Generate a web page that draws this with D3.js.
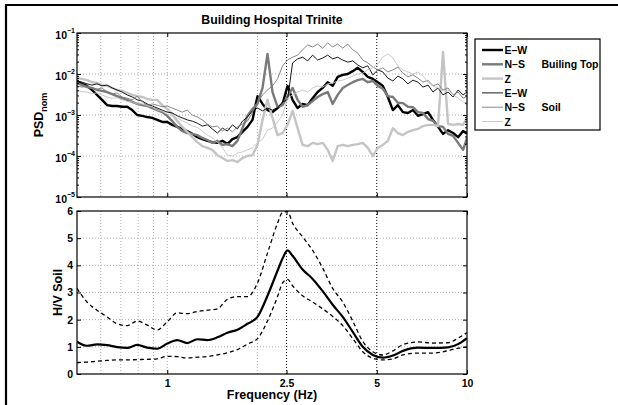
<!DOCTYPE html>
<html>
<head>
<meta charset="utf-8">
<script src="https://cdn.jsdelivr.net/npm/d3@7"></script>
<style>
  body { margin: 0; background: #fff; }
  text { font-family: "Liberation Sans", Arial, Helvetica, sans-serif; font-weight: bold; }
</style>
</head>
<body>
<div id="chart"></div>
<script>

// frequencies (Hz) for the spectra
var freqs = [0.500,0.520,0.540,0.561,0.583,0.606,0.630,0.655,0.680,0.707,
  0.735,0.764,0.794,0.825,0.857,0.891,0.926,0.962,1.000,1.039,
  1.080,1.122,1.166,1.212,1.260,1.309,1.361,1.414,1.470,1.528,
  1.588,1.650,1.715,1.782,1.852,1.925,2.000,2.079,2.160,2.245,
  2.333,2.425,2.520,2.619,2.722,2.829,2.940,3.055,3.175,3.300,
  3.430,3.564,3.704,3.850,4.001,4.158,4.321,4.491,4.667,4.851,
  5.041,5.239,5.445,5.659,5.881,6.112,6.352,6.602,6.861,7.131,
  7.411,7.702,8.004,8.319,8.646,8.985,9.338,9.705,10.0];

// log10 of normalised PSD, building top
var topEW = [-2.17,-2.24,-2.29,-2.39,-2.51,-2.63,-2.76,-2.78,-2.78,-2.80,
  -2.80,-2.88,-3.00,-3.02,-3.05,-3.07,-3.12,-3.17,-3.17,-3.24,
  -3.29,-3.34,-3.39,-3.46,-3.54,-3.59,-3.63,-3.66,-3.68,-3.63,
  -3.71,-3.59,-3.54,-3.41,-3.29,-3.12,-2.54,-2.73,-2.88,-2.93,
  -2.83,-2.73,-2.29,-2.63,-2.83,-2.73,-2.76,-2.59,-2.44,-2.34,
  -2.20,-2.29,-2.07,-2.02,-2.00,-1.93,-1.85,-1.95,-2.07,-2.12,
  -2.20,-2.29,-2.56,-2.88,-2.76,-2.93,-2.95,-2.88,-3.02,-2.98,
  -2.93,-3.12,-3.29,-3.46,-3.37,-3.44,-3.54,-3.39,-3.46];
var topNS = [-2.22,-2.27,-2.32,-2.34,-2.39,-2.41,-2.44,-2.49,-2.54,-2.59,
  -2.63,-2.68,-2.73,-2.76,-2.78,-2.83,-2.88,-2.93,-3.02,-3.15,
  -3.29,-3.39,-3.44,-3.46,-3.49,-3.56,-3.61,-3.68,-3.63,-3.73,
  -3.71,-3.76,-3.63,-3.32,-3.02,-2.85,-2.73,-2.34,-1.51,-2.44,
  -2.80,-2.76,-2.54,-2.34,-2.63,-2.80,-2.76,-2.66,-2.56,-2.49,
  -2.44,-2.73,-2.51,-2.34,-2.27,-2.20,-2.15,-2.12,-2.20,-2.17,
  -2.29,-2.36,-2.54,-2.56,-2.70,-2.71,-2.80,-2.81,-2.93,-2.95,
  -3.10,-3.14,-3.27,-3.29,-3.46,-3.51,-3.68,-3.85,-3.56];
var topZ = [-2.10,-2.12,-2.15,-2.20,-2.22,-2.27,-2.29,-2.34,-2.39,-2.41,
  -2.46,-2.51,-2.54,-2.56,-2.61,-2.63,-2.63,-2.76,-2.85,-2.98,
  -3.15,-3.29,-3.41,-3.54,-3.66,-3.76,-3.80,-3.85,-3.98,-4.05,
  -4.12,-4.10,-4.15,-4.05,-4.00,-3.98,-3.73,-3.12,-2.63,-3.07,
  -3.49,-3.44,-3.24,-2.90,-3.32,-3.73,-3.76,-3.68,-3.71,-3.68,
  -3.85,-4.12,-3.76,-3.73,-3.76,-3.73,-3.71,-3.68,-3.80,-4.00,
  -3.80,-3.73,-3.63,-3.32,-3.44,-3.49,-3.41,-3.37,-3.34,-3.27,
  -3.24,-3.24,-3.27,-1.46,-3.22,-3.24,-3.22,-3.24,-3.07];

// log10 of normalised PSD, soil
var soilEW = [-2.17,-2.20,-2.24,-2.27,-2.24,-2.29,-2.27,-2.34,-2.39,-2.44,
  -2.51,-2.56,-2.63,-2.66,-2.73,-2.78,-2.83,-2.88,-2.93,-2.95,
  -3.02,-3.07,-3.12,-3.15,-3.20,-3.27,-3.24,-3.34,-3.44,-3.32,
  -3.39,-3.24,-3.34,-3.15,-3.05,-2.90,-2.83,-2.90,-2.83,-2.88,
  -2.83,-2.68,-2.63,-1.73,-1.63,-1.59,-1.68,-1.54,-1.66,-1.61,
  -1.54,-1.63,-1.59,-1.66,-1.71,-1.68,-1.78,-1.85,-1.80,-2.02,
  -1.90,-1.95,-2.10,-2.17,-2.05,-2.12,-2.24,-2.15,-2.20,-2.32,
  -2.27,-2.44,-2.34,-2.51,-2.44,-2.56,-2.39,-2.51,-2.44];
var soilNS = [-2.29,-2.32,-2.29,-2.34,-2.37,-2.34,-2.44,-2.49,-2.46,-2.56,
  -2.59,-2.63,-2.54,-2.68,-2.76,-2.73,-2.76,-2.80,-2.78,-2.83,
  -2.88,-2.93,-2.88,-3.00,-3.05,-3.12,-3.22,-3.29,-3.27,-3.39,
  -3.32,-3.41,-3.29,-3.22,-3.15,-2.93,-2.71,-2.51,-2.39,-2.29,
  -2.12,-1.80,-1.66,-1.59,-1.54,-1.41,-1.29,-1.34,-1.27,-1.37,
  -1.24,-1.34,-1.27,-1.37,-1.27,-1.41,-1.49,-1.66,-1.73,-1.83,
  -1.90,-1.85,-1.95,-1.90,-1.83,-1.98,-2.07,-2.02,-2.10,-2.20,
  -2.15,-2.29,-2.24,-2.39,-2.34,-2.51,-2.44,-2.59,-2.54];
var soilZ = [-2.39,-2.43,-2.44,-2.48,-2.46,-2.51,-2.56,-2.59,-2.58,-2.63,
  -2.67,-2.68,-2.73,-2.73,-2.78,-2.80,-2.88,-2.91,-2.98,-3.02,
  -3.07,-3.14,-3.20,-3.27,-3.30,-3.39,-3.49,-3.56,-3.66,-3.80,
  -3.98,-4.00,-3.93,-3.90,-3.85,-3.80,-3.68,-3.59,-3.37,-3.32,
  -3.17,-3.00,-2.59,-2.51,-2.44,-2.39,-2.44,-2.34,-2.29,-2.32,
  -2.24,-2.22,-2.17,-2.15,-2.10,-2.05,-2.00,-1.98,-1.90,-1.85,
  -1.76,-1.59,-1.51,-1.61,-1.80,-1.90,-1.95,-2.00,-1.95,-2.05,
  -2.20,-2.29,-2.34,-2.41,-2.39,-2.51,-2.59,-2.68,-2.76];

// H/V ratio on soil
var hvFreqs = [0.500,0.540,0.583,0.630,0.680,0.735,0.794,0.857,0.926,1.000,
  1.080,1.166,1.260,1.361,1.470,1.588,1.715,1.852,2.000,2.160,
  2.333,2.425,2.520,2.619,2.829,3.055,3.300,3.564,3.850,4.158,
  4.491,4.851,5.239,5.659,6.112,6.861,7.702,8.646,9.338,10.0];
var hvMean = [1.19,1.04,1.09,1.06,0.99,0.96,1.07,0.97,0.93,1.12,
  1.25,1.14,1.28,1.25,1.35,1.52,1.63,1.85,2.10,2.88,
  3.80,4.25,4.55,4.35,3.85,3.50,3.05,2.55,2.10,1.55,
  1.00,0.70,0.60,0.68,0.85,0.97,0.96,0.98,1.10,1.32];
var hvUpper = [3.15,2.65,2.35,2.10,1.85,1.78,1.95,1.80,1.62,1.92,
  2.25,2.22,2.30,2.35,2.40,2.75,2.85,2.85,3.35,4.45,
  5.55,5.95,5.98,5.55,5.05,4.55,3.90,3.15,2.65,1.95,
  1.20,0.82,0.70,0.85,1.08,1.18,1.14,1.15,1.32,1.52];
var hvLower = [0.42,0.44,0.47,0.50,0.52,0.52,0.53,0.54,0.56,0.65,
  0.64,0.59,0.62,0.64,0.70,0.78,0.90,1.10,1.30,1.95,
  2.85,3.35,3.48,3.25,2.88,2.65,2.40,2.12,1.78,1.30,
  0.82,0.58,0.52,0.56,0.70,0.77,0.77,0.86,0.95,1.00];

var componentNames = ["E\u2013W", "N\u2013S", "Z", "E\u2013W", "N\u2013S", "Z"];
var groupNames = ["Builing Top", "Soil"];
var xTickValues = [1, 2.5, 5, 10];
var xGridLight = [0.6, 0.7, 0.8, 0.9, 1, 2];
var xGridDark = [2.5, 5];
var psdTickValues = [1e-5, 1e-4, 1e-3, 1e-2, 1e-1];
var psdExponents = [-5, -4, -3, -2, -1];
var hvTickValues = [0, 1, 2, 3, 4, 5, 6];

var svgWidth = 618;
var svgHeight = 405;

var plotLeft = 77;
var plotWidth = 390;
var topMargin = 33;
var topHeight = 164;
var bottomMargin = 211;
var bottomHeight = 163;

var svg = d3.select("#chart")
  .append("svg")
  .attr("width", svgWidth)
  .attr("height", svgHeight);

svg.append("rect")
  .attr("width", svgWidth)
  .attr("height", svgHeight)
  .attr("fill", "#fff");

// frame lines of the cropped figure
svg.append("line")
  .attr("x1", 5).attr("x2", svgWidth)
  .attr("y1", 5).attr("y2", 5)
  .attr("stroke", "#000").attr("stroke-width", 2.2);
svg.append("line")
  .attr("x1", 6).attr("x2", 6)
  .attr("y1", 4).attr("y2", svgHeight)
  .attr("stroke", "#000").attr("stroke-width", 2.2);

var xScale = d3.scaleLog()
  .domain([0.5, 10])
  .range([0, plotWidth]);

var yPsd = d3.scaleLog()
  .domain([1e-5, 1e-1])
  .range([topHeight, 0]);

var yHv = d3.scaleLinear()
  .domain([0, 6])
  .range([bottomHeight, 0]);

var defs = svg.append("defs");
defs.append("clipPath").attr("id", "clipTop")
  .append("rect").attr("width", plotWidth).attr("height", topHeight);
defs.append("clipPath").attr("id", "clipBottom")
  .append("rect").attr("width", plotWidth).attr("height", bottomHeight);

var topGroup = svg.append("g")
  .attr("transform", `translate(${plotLeft}, ${topMargin})`);
var bottomGroup = svg.append("g")
  .attr("transform", `translate(${plotLeft}, ${bottomMargin})`);

// grid lines
function drawGrid(g, h, yScale, yGrid) {
  g.selectAll(".hgrid")
    .data(yGrid)
    .enter()
    .append("line")
    .attr("x1", 0).attr("x2", plotWidth)
    .attr("y1", d => yScale(d)).attr("y2", d => yScale(d))
    .attr("stroke", "#9a9a9a")
    .attr("stroke-width", 0.8)
    .attr("stroke-dasharray", "1,2");

  g.selectAll(".vgrid")
    .data(xGridLight)
    .enter()
    .append("line")
    .attr("x1", d => xScale(d)).attr("x2", d => xScale(d))
    .attr("y1", 0).attr("y2", h)
    .attr("stroke", "#9a9a9a")
    .attr("stroke-width", 0.8)
    .attr("stroke-dasharray", "1,2");

  g.selectAll(".vgridDark")
    .data(xGridDark)
    .enter()
    .append("line")
    .attr("x1", d => xScale(d)).attr("x2", d => xScale(d))
    .attr("y1", 0).attr("y2", h)
    .attr("stroke", "#000")
    .attr("stroke-width", 1)
    .attr("stroke-dasharray", "1,2");
}

drawGrid(topGroup, topHeight, yPsd, [1e-4, 1e-3, 1e-2]);
drawGrid(bottomGroup, bottomHeight, yHv, [1, 2, 3, 4, 5]);

// PSD curves
var psdSeries = [
  { values: topEW, color: "#000", width: 2.4 },
  { values: topNS, color: "#7a7a7a", width: 2.4 },
  { values: topZ, color: "#c4c4c4", width: 2.4 },
  { values: soilEW, color: "#000", width: 0.9 },
  { values: soilNS, color: "#7a7a7a", width: 0.9 },
  { values: soilZ, color: "#c4c4c4", width: 0.9 }
];

var psdLine = d3.line()
  .x(d => xScale(d[0]))
  .y(d => yPsd(d[1]));

var psdLayer = topGroup.append("g").attr("clip-path", "url(#clipTop)");
psdLayer.selectAll("path")
  .data(psdSeries)
  .enter()
  .append("path")
  .attr("d", s => psdLine(freqs.map((f, i) => [f, Math.pow(10, s.values[i])])))
  .attr("fill", "none")
  .attr("stroke", s => s.color)
  .attr("stroke-width", s => s.width)
  .attr("stroke-linejoin", "round");

// H/V curves
var hvLine = d3.line()
  .x(d => xScale(d[0]))
  .y(d => yHv(d[1]))
  .curve(d3.curveMonotoneX);

var hvLayer = bottomGroup.append("g").attr("clip-path", "url(#clipBottom)");
[hvUpper, hvLower].forEach(function(vals) {
  hvLayer.append("path")
    .attr("d", hvLine(hvFreqs.map((f, i) => [f, vals[i]])))
    .attr("fill", "none")
    .attr("stroke", "#000")
    .attr("stroke-width", 1.3)
    .attr("stroke-dasharray", "4,3");
});
hvLayer.append("path")
  .attr("d", hvLine(hvFreqs.map((f, i) => [f, hvMean[i]])))
  .attr("fill", "none")
  .attr("stroke", "#000")
  .attr("stroke-width", 2.2);

// axes
function styleAxis(g) {
  g.select(".domain").remove();
  g.selectAll(".tick line").attr("stroke", "#000");
  g.selectAll("text")
    .attr("font-family", "Liberation Sans, Arial, sans-serif")
    .attr("font-weight", "bold")
    .attr("font-size", "10.5px")
    .attr("fill", "#000");
}

// x ticks (inside)
topGroup.append("g")
  .attr("transform", `translate(0, ${topHeight})`)
  .call(d3.axisBottom(xScale).tickValues(xTickValues).tickSize(-4).tickFormat(""))
  .call(styleAxis);
topGroup.append("g")
  .call(d3.axisTop(xScale).tickValues(xTickValues).tickSize(-4).tickFormat(""))
  .call(styleAxis);
bottomGroup.append("g")
  .attr("transform", `translate(0, ${bottomHeight})`)
  .call(d3.axisBottom(xScale).tickValues(xTickValues).tickSize(-4).tickPadding(5.5)
    .tickFormat(d => String(d)))
  .call(styleAxis);
bottomGroup.append("g")
  .call(d3.axisTop(xScale).tickValues(xTickValues).tickSize(-4).tickFormat(""))
  .call(styleAxis);

// PSD y axis, major and minor ticks on both sides
var psdMinor = [];
psdExponents.slice(0, 4).forEach(function(e) {
  for (var k = 2; k <= 9; k++) psdMinor.push(k * Math.pow(10, e));
});

topGroup.append("g")
  .call(d3.axisLeft(yPsd).tickValues(psdTickValues).tickSize(-4).tickFormat(""))
  .call(styleAxis);
topGroup.append("g")
  .call(d3.axisLeft(yPsd).tickValues(psdMinor).tickSize(-2).tickFormat(""))
  .call(styleAxis);
topGroup.append("g")
  .attr("transform", `translate(${plotWidth}, 0)`)
  .call(d3.axisRight(yPsd).tickValues(psdTickValues).tickSize(-4).tickFormat(""))
  .call(styleAxis);
topGroup.append("g")
  .attr("transform", `translate(${plotWidth}, 0)`)
  .call(d3.axisRight(yPsd).tickValues(psdMinor).tickSize(-2).tickFormat(""))
  .call(styleAxis);

var psdLabels = topGroup.selectAll(".psdLabel")
  .data(psdTickValues)
  .enter()
  .append("text")
  .attr("x", -2)
  .attr("y", d => yPsd(d) + 6)
  .attr("text-anchor", "end")
  .attr("font-size", "10.5px");
psdLabels.append("tspan").text("10");
psdLabels.append("tspan")
  .attr("dy", -6)
  .attr("font-size", "7px")
  .text((d, i) => "\u2212" + Math.abs(psdExponents[i]));

// H/V y axis
bottomGroup.append("g")
  .call(d3.axisLeft(yHv).tickValues(hvTickValues).tickSize(-4).tickPadding(4)
    .tickFormat(d => String(d)))
  .call(styleAxis);
bottomGroup.append("g")
  .attr("transform", `translate(${plotWidth}, 0)`)
  .call(d3.axisRight(yHv).tickValues(hvTickValues).tickSize(-4).tickFormat(""))
  .call(styleAxis);

// boxes
[[topGroup, topHeight], [bottomGroup, bottomHeight]].forEach(function(p) {
  p[0].append("rect")
    .attr("width", plotWidth)
    .attr("height", p[1])
    .attr("fill", "none")
    .attr("stroke", "#000")
    .attr("stroke-width", 1.2);
});

// title and labels
svg.append("text")
  .attr("x", plotLeft + plotWidth / 2)
  .attr("y", 24)
  .attr("text-anchor", "middle")
  .attr("font-size", "12.3px")
  .text("Building Hospital Trinite");

var psdTitle = svg.append("text")
  .attr("transform", `translate(43, ${topMargin + topHeight / 2}) rotate(-90)`)
  .attr("text-anchor", "middle")
  .attr("font-size", "12.5px");
psdTitle.append("tspan").text("PSD");
psdTitle.append("tspan")
  .attr("dy", 4)
  .attr("font-size", "9px")
  .text("nom");

svg.append("text")
  .attr("transform", `translate(62, ${bottomMargin + bottomHeight / 2}) rotate(-90)`)
  .attr("text-anchor", "middle")
  .attr("font-size", "12.5px")
  .text("H/V Soil");

svg.append("text")
  .attr("x", plotLeft + plotWidth / 2)
  .attr("y", 399)
  .attr("text-anchor", "middle")
  .attr("font-size", "12.5px")
  .text("Frequency (Hz)");

// legend
var legend = svg.append("g")
  .attr("transform", "translate(475, 39)");

legend.append("rect")
  .attr("width", 125)
  .attr("height", 91)
  .attr("fill", "#fff")
  .attr("stroke", "#000")
  .attr("stroke-width", 1.2);

var rows = legend.selectAll(".row")
  .data(psdSeries)
  .enter()
  .append("g")
  .attr("transform", (d, i) => `translate(0, ${11 + i * 14.3})`);

rows.append("line")
  .attr("x1", 7).attr("x2", 28)
  .attr("stroke", d => d.color)
  .attr("stroke-width", d => d.width);

rows.append("text")
  .attr("x", 29.5)
  .attr("y", 4)
  .attr("font-size", "10.5px")
  .text((d, i) => componentNames[i]);

rows.filter((d, i) => i === 1 || i === 4)
  .append("text")
  .attr("x", 66.5)
  .attr("y", 4)
  .attr("font-size", "10.5px")
  .text((d, i) => groupNames[i]);

</script>
</body>
</html>
